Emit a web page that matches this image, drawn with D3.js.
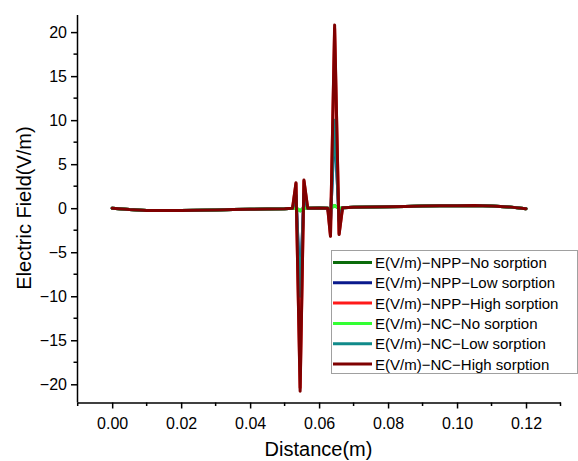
<!DOCTYPE html>
<html>
<head>
<meta charset="utf-8">
<script src="https://cdn.jsdelivr.net/npm/d3@7"></script>
<style>
  html, body { margin: 0; padding: 0; background: #fff; }
  svg { display: block; font-family: "Liberation Sans", Arial, sans-serif; }
</style>
</head>
<body>
<svg id="chart" width="578" height="461"></svg>
<script>
// ---- data ----
const distance = [0, 0.005, 0.01, 0.015, 0.02, 0.025, 0.03, 0.035, 0.04, 0.045, 0.05,
                  0.0523, 0.0533, 0.0545, 0.0556, 0.0567, 0.06, 0.0625, 0.0633, 0.0645, 0.0658, 0.0668,
                  0.07, 0.075, 0.08, 0.085, 0.09, 0.095, 0.1, 0.105, 0.11, 0.115, 0.12];
const baseL = [0, -0.15, -0.25, -0.27, -0.26, -0.24, -0.2, -0.16, -0.12, -0.08, -0.05];
const baseR = [0.1, 0.13, 0.16, 0.2, 0.24, 0.27, 0.29, 0.3, 0.25, 0.15, -0.05];
const nppNo   = baseL.concat([0, 0.05, -0.3, 0.05, 0, 0.02, 0, -0.05, 0.3, -0.05, 0.05]).concat(baseR);
const nppLow  = baseL.concat([0, 1.4, -9.5, 1.5, 0, 0.02, 0, -1.5, 9.6, -1.4, 0.05]).concat(baseR);
const nppHigh = baseL.concat([0, 2.8, -20.4, 3.1, 0, 0.02, 0, -3.1, 20.4, -2.9, 0.05]).concat(baseR);
const ncNo    = baseL.concat([0, 0.05, -0.3, 0.05, 0, 0.02, 0, -0.05, 0.3, -0.05, 0.05]).concat(baseR);
const ncLow   = baseL.concat([0, 1.5, -10, 1.6, 0, 0.02, 0, -1.6, 10, -1.5, 0.05]).concat(baseR);
const ncHigh  = baseL.concat([0, 2.9, -20.8, 3.2, 0, 0.02, 0, -3.2, 20.8, -3.0, 0.05]).concat(baseR);

const seriesNames = ["E(V/m)\u2212NPP\u2212No sorption", "E(V/m)\u2212NPP\u2212Low sorption", "E(V/m)\u2212NPP\u2212High sorption",
                     "E(V/m)\u2212NC\u2212No sorption", "E(V/m)\u2212NC\u2212Low sorption", "E(V/m)\u2212NC\u2212High sorption"];
const seriesValues = [nppNo, nppLow, nppHigh, ncNo, ncLow, ncHigh];
const seriesColors = ["#0b6b0b", "#0a1a8c", "#ff1a1a", "#33ff33", "#108a8a", "#7f0000"];

const xTicks = [0, 0.02, 0.04, 0.06, 0.08, 0.10, 0.12];
const yTicks = [-20, -15, -10, -5, 0, 5, 10, 15, 20];

// ---- layout ----
const svg = d3.select("#chart");
const x = d3.scaleLinear().domain([-0.0102, 0.13]).range([77, 560.5]);
const y = d3.scaleLinear().domain([-22, 22]).range([401.9, 14.5]);

// lines
const line = d3.line().x((d, i) => x(distance[i])).y(d => y(d));
seriesValues.forEach((vals, k) => {
  svg.append("path")
    .datum(vals)
    .attr("d", line)
    .attr("fill", "none")
    .attr("stroke", seriesColors[k])
    .attr("stroke-width", 3)
    .attr("stroke-linejoin", "round")
    .attr("stroke-linecap", "round");
});

// x axis
const xAxisY = 402.5;
const xMinor = d3.range(-0.01, 0.1301, 0.01).filter(v => !xTicks.some(t => Math.abs(t - v) < 1e-9));
const gx = svg.append("g").attr("transform", `translate(0,${xAxisY})`);
gx.call(d3.axisBottom(x).tickValues(xTicks).tickFormat(d3.format(".2f")).tickSize(6).tickPadding(9).tickSizeOuter(0));
gx.call(g => g.select(".domain").attr("stroke-width", 1.5));
gx.selectAll(".tick line").attr("stroke-width", 1.5);
gx.selectAll(".tick text").attr("font-size", 16).attr("font-family", "Liberation Sans, Arial, sans-serif").attr("fill", "#000");
gx.selectAll(".minor").data(xMinor).enter().append("line")
  .attr("x1", d => x(d)).attr("x2", d => x(d)).attr("y1", 0).attr("y2", 3.5)
  .attr("stroke", "#000").attr("stroke-width", 1.5);

// y axis
const yAxisX = 77;
const yMinor = d3.range(-22.5, 22.6, 2.5).filter(v => v >= -22 && v <= 22 && !yTicks.includes(v));
const gy = svg.append("g").attr("transform", `translate(${yAxisX},0)`);
gy.call(d3.axisLeft(y).tickValues(yTicks).tickFormat(d3.format("d")).tickSize(6).tickPadding(4).tickSizeOuter(0));
gy.call(g => g.select(".domain").attr("stroke-width", 1.5));
gy.selectAll(".tick line").attr("stroke-width", 1.5);
gy.selectAll(".tick text").attr("font-size", 16).attr("font-family", "Liberation Sans, Arial, sans-serif").attr("fill", "#000");
gy.selectAll(".minor").data(yMinor).enter().append("line")
  .attr("x1", 0).attr("x2", -3.5).attr("y1", d => y(d)).attr("y2", d => y(d))
  .attr("stroke", "#000").attr("stroke-width", 1.5);

// axis titles
svg.append("text")
  .attr("x", 318.5).attr("y", 456)
  .attr("text-anchor", "middle").attr("font-size", 20).attr("fill", "#000")
  .text("Distance(m)");
svg.append("text")
  .attr("transform", "translate(31,208) rotate(-90)")
  .attr("text-anchor", "middle").attr("font-size", 20).attr("fill", "#000")
  .text("Electric Field(V/m)");

// legend
const lg = svg.append("g");
lg.append("rect").attr("x", 331.5).attr("y", 250.5).attr("width", 246).attr("height", 123)
  .attr("fill", "#fff").attr("stroke", "#a0a0a0").attr("stroke-width", 1);
seriesNames.forEach((name, k) => {
  const cy = 262.5 + k * 20.3;
  lg.append("line").attr("x1", 333).attr("x2", 372).attr("y1", cy).attr("y2", cy)
    .attr("stroke", seriesColors[k]).attr("stroke-width", 3);
  lg.append("text").attr("x", 375).attr("y", cy + 5.5)
    .attr("font-size", 15).attr("fill", "#000").text(name);
});
</script>
</body>
</html>
